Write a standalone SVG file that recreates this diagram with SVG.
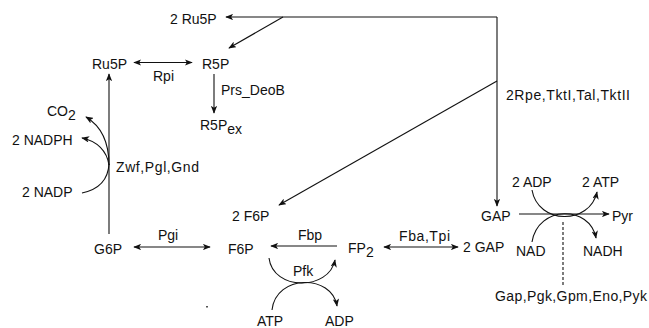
<svg xmlns="http://www.w3.org/2000/svg" width="649" height="328" viewBox="0 0 649 328">
  <defs>
    <marker id="ah" viewBox="0 0 10 8" refX="9" refY="4" markerWidth="8" markerHeight="6.4" markerUnits="userSpaceOnUse" orient="auto-start-reverse">
      <path d="M0,0 L10,4 L0,8 L2.5,4 z" fill="#111"/>
    </marker>
  </defs>
  <style>
    text { font-family: "Liberation Sans", Arial, sans-serif; font-size: 14px; fill: #111; }
    .ln { fill: none; stroke: #111; stroke-width: 1.1; }
    .end { marker-end: url(#ah); }
    .both { marker-start: url(#ah); marker-end: url(#ah); }
    .dash { stroke-dasharray: 3 2; }
  </style>
  <rect width="649" height="328" fill="#fff"/>

  <!-- connectors -->
  <g id="connectors">
    <!-- pentose phosphate return loop -->
    <path class="ln end" d="M497,17 L226,17"/>
    <path class="ln end" d="M497,17 L497,206"/>
    <path class="ln end" d="M283,17 L229,48"/>
    <path class="ln end" d="M497,81 L279,205"/>
    <path class="ln both" d="M134,62.5 L192,62.5"/>
    <path class="ln end" d="M214,74 L214,113"/>
    <!-- oxidative branch -->
    <path class="ln end" d="M109,234 L109,74"/>
    <path class="ln end" d="M109,165 C109,141 101,126 86,117"/>
    <path class="ln end" d="M109,165 C107,151 97,141 82,138"/>
    <path class="ln" d="M82,193 C96,190 108,182 109,164"/>
    <!-- upper glycolysis -->
    <path class="ln both" d="M134,247 L210,247"/>
    <path class="ln end" d="M337,246 L271,246"/>
    <path class="ln end" d="M269,258 C273,291 329,291 335,260"/>
    <path class="ln end" d="M272,310 C276,274 332,274 337,306"/>
    <path class="ln both" d="M384,247 L458,247"/>
    <!-- lower glycolysis -->
    <path class="ln end" d="M519,214 L609,214"/>
    <path class="ln end" d="M532,190 C538,225 590,225 597,192"/>
    <path class="ln end" d="M532,242 C538,205 590,205 596,238"/>
    <path class="ln dash" d="M563,222 L563,287"/>
  </g>

  <g id="n-ru5p2"><text x="170" y="24">2 Ru5P</text></g>
  <g id="n-ru5p"><text x="92" y="69">Ru5P</text></g>
  <g id="e-rpi"><text x="153" y="81">Rpi</text></g>
  <g id="n-r5p"><text x="202" y="69">R5P</text></g>
  <g id="e-prs"><text x="221" y="95">Prs_DeoB</text></g>
  <g id="n-r5pex"><text x="200" y="130">R5P<tspan dy="4">ex</tspan></text></g>
  <g id="n-co2"><text x="47" y="116">CO<tspan dy="4">2</tspan></text></g>
  <g id="n-nadph"><text x="12" y="145">2 NADPH</text></g>
  <g id="e-zwf"><text x="116" y="172" textLength="83" lengthAdjust="spacing">Zwf,Pgl,Gnd</text></g>
  <g id="n-nadp"><text x="22" y="197">2 NADP</text></g>
  <g id="n-g6p"><text x="94" y="254">G6P</text></g>
  <g id="e-pgi"><text x="158" y="240">Pgi</text></g>
  <g id="n-f6p"><text x="228" y="254">F6P</text></g>
  <g id="n-f6p2"><text x="232" y="221">2 F6P</text></g>
  <g id="e-fbp"><text x="298" y="240">Fbp</text></g>
  <g id="n-fp2"><text x="348" y="253">FP<tspan dy="4">2</tspan></text></g>
  <g id="e-pfk"><text x="293" y="276">Pfk</text></g>
  <g id="n-atp"><text x="257" y="326">ATP</text></g>
  <g id="n-adp"><text x="325" y="326">ADP</text></g>
  <g id="e-fba"><text x="399" y="241" textLength="51" lengthAdjust="spacing">Fba,Tpi</text></g>
  <g id="n-gap2"><text x="463" y="252">2 GAP</text></g>
  <g id="n-gap"><text x="481" y="221">GAP</text></g>
  <g id="n-pyr"><text x="612" y="221">Pyr</text></g>
  <g id="n-adp2"><text x="512" y="187">2 ADP</text></g>
  <g id="n-atp2"><text x="582" y="187">2 ATP</text></g>
  <g id="n-nad"><text x="516" y="256">NAD</text></g>
  <g id="n-nadh"><text x="583" y="256">NADH</text></g>
  <g id="e-lower"><text x="495" y="301" textLength="152" lengthAdjust="spacing">Gap,Pgk,Gpm,Eno,Pyk</text></g>
  <g id="e-ppp"><text x="506" y="100" textLength="124" lengthAdjust="spacing">2Rpe,TktI,Tal,TktII</text></g>
  <rect x="206" y="306" width="2" height="1.5" fill="#555"/>
</svg>
